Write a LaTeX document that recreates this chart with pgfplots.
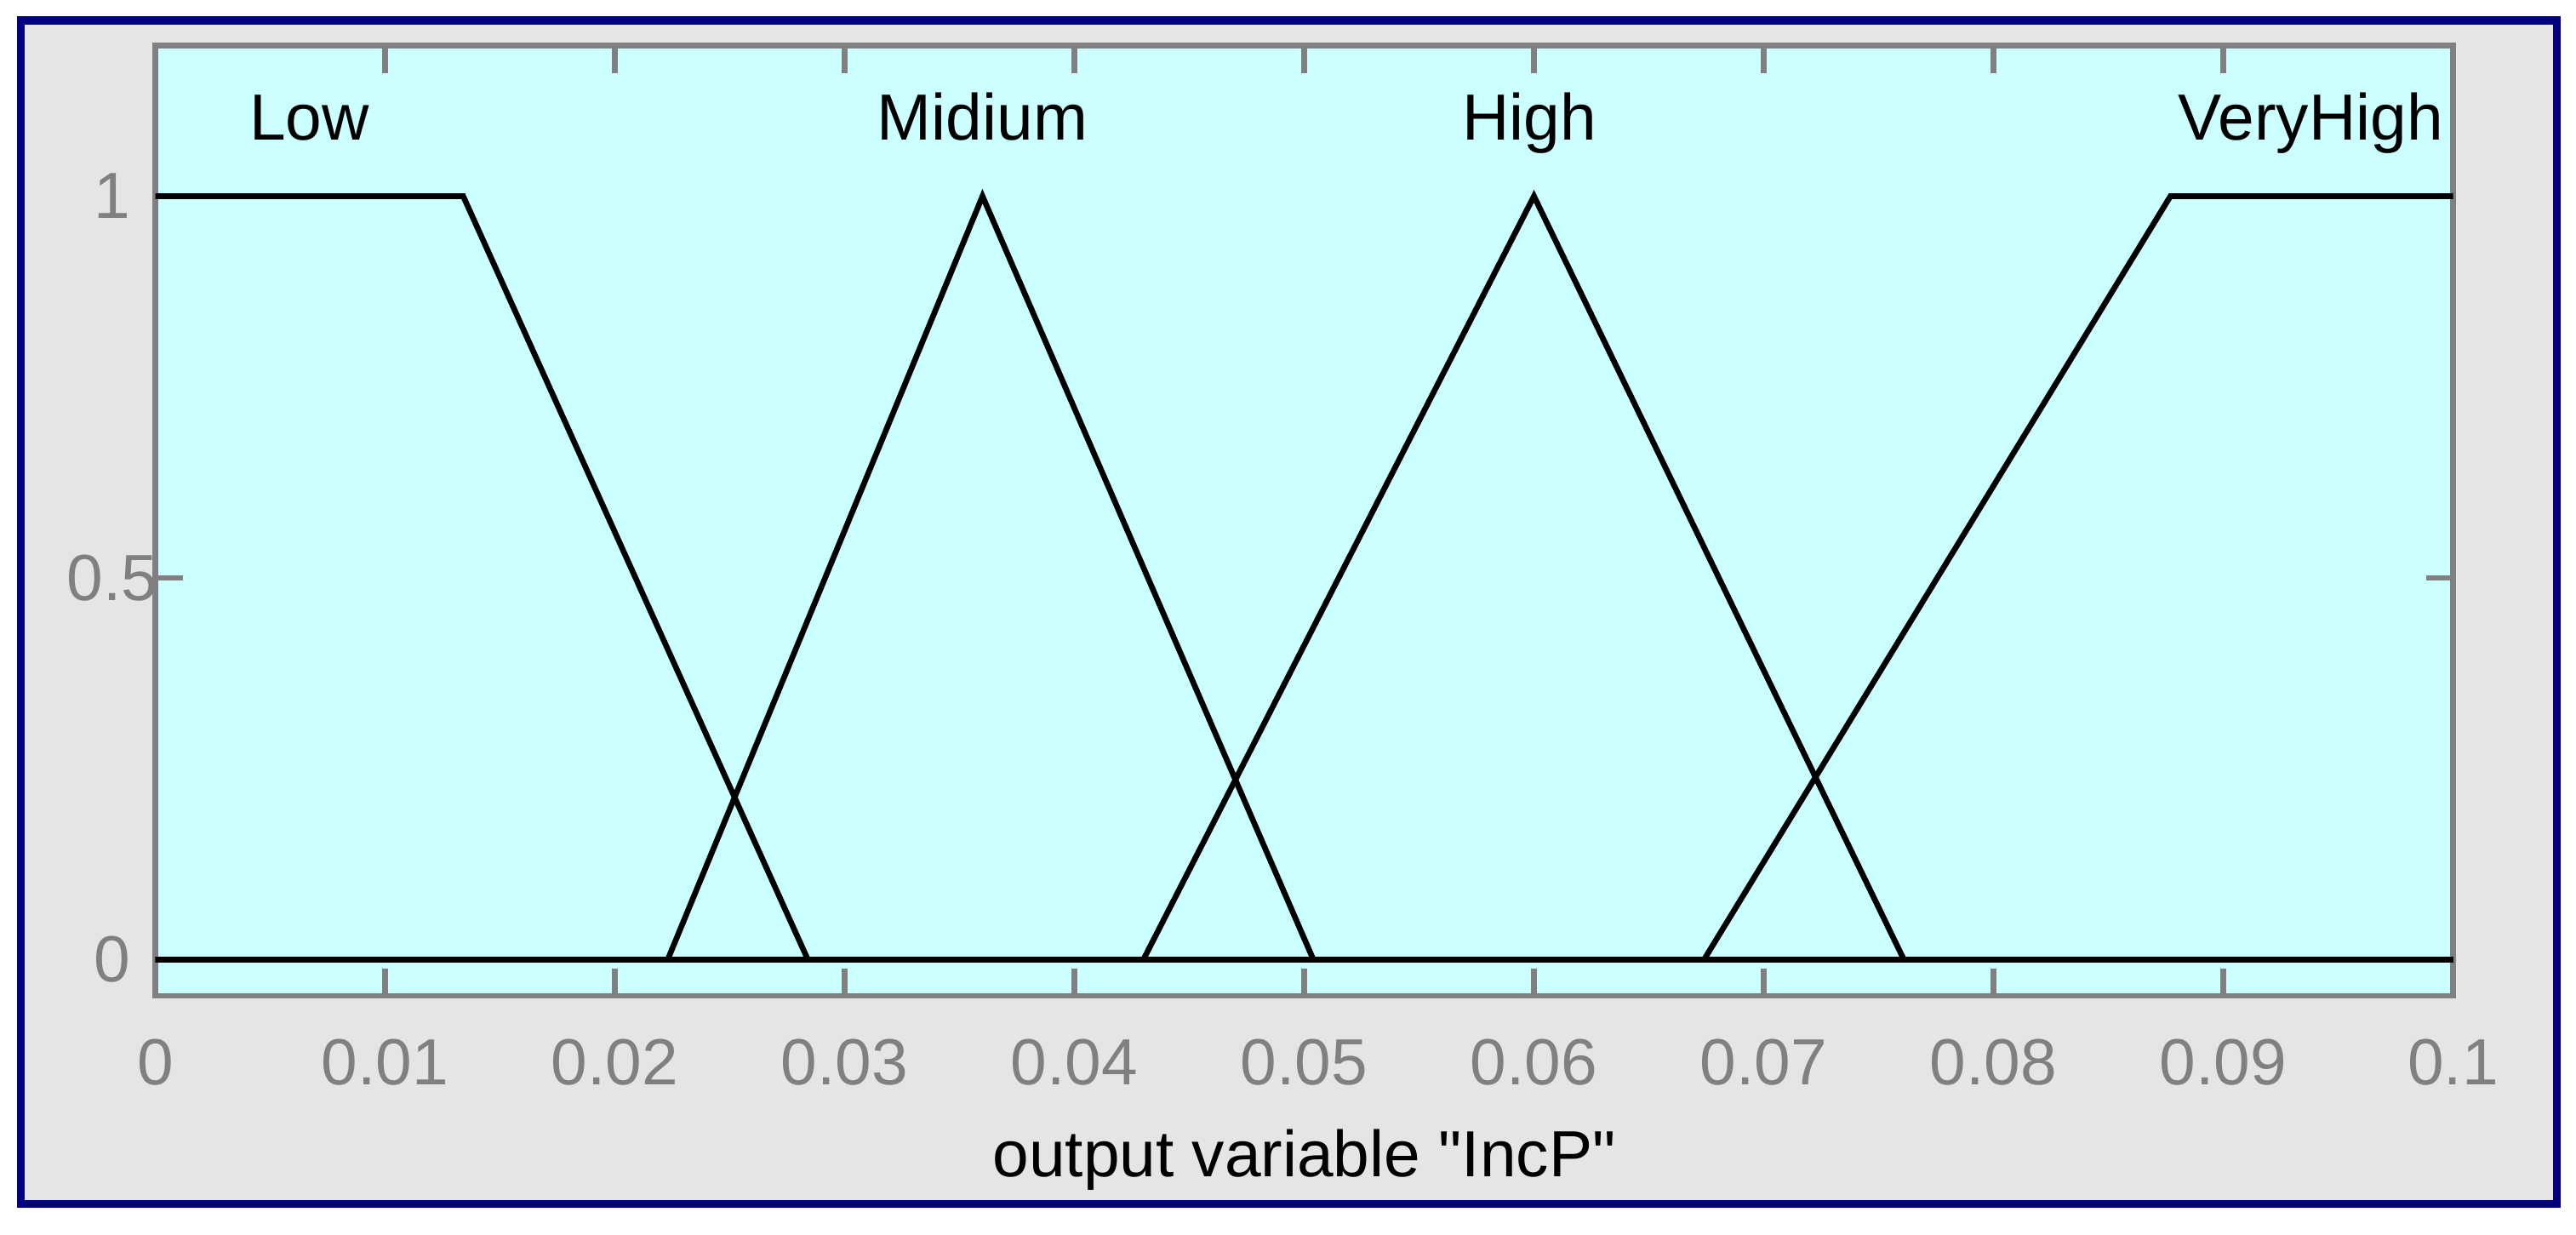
\documentclass[border=0pt]{standalone}
\usepackage{fontspec}
\setmainfont{Liberation Sans}[Ligatures=TeXOff]
\usepackage{pgfplots}
\pgfplotsset{compat=1.18}
\definecolor{navyb}{RGB}{0,0,128}
\definecolor{figbg}{RGB}{229,229,229}
\definecolor{axbg}{RGB}{204,255,255}
\definecolor{axgray}{RGB}{128,128,128}
\newcommand{\lblfont}{\fontsize{11.5}{13}\selectfont}
\begin{document}
\begin{tikzpicture}
\fill[white] (-27.375pt,-42pt) rectangle (426.675pt,175.5pt);
\useasboundingbox (-27.375pt,-42pt) rectangle (426.675pt,175.5pt);
\filldraw[fill=figbg, draw=navyb, line width=1.425pt] (-23.7pt,-36.675pt) rectangle (423.3pt,171.9pt);
\begin{axis}[
  at={(0pt,0pt)}, anchor=south west,
  scale only axis, width=405pt, height=167.475pt,
  xmin=0, xmax=0.1, ymin=-0.0474, ymax=1.1973,
  axis background/.style={fill=axbg},
  axis line style={draw=axgray, line width=1pt},
  tick align=inside, tick pos=both, major tick length=4.8pt,
  tick style={draw=axgray, line width=1pt},
  xtick={0,0.01,0.02,0.03,0.04,0.05,0.06,0.07,0.08,0.09,0.1},
  xticklabels={0,0.01,0.02,0.03,0.04,0.05,0.06,0.07,0.08,0.09,0.1},
  ytick={0,0.5,1}, yticklabels={0,0.5,1},
  ticklabel style={font=\lblfont, text=axgray, inner sep=0pt},
  xticklabel style={anchor=base, yshift=-15.6pt},
  yticklabel style={anchor=center, xshift=-7.6pt},
  xlabel={output variable "IncP"},
  xlabel style={at={(axis description cs:0.5,0)}, anchor=base, yshift=-31.8pt, font=\lblfont, text=black, inner sep=0pt},
  clip=false,
]
\addplot[black, line width=1pt] coordinates {(0,1) (0.0134,1) (0.0284,0) (0.1,0)};
\addplot[black, line width=1pt] coordinates {(0,0) (0.0223,0) (0.036,1) (0.0504,0) (0.1,0)};
\addplot[black, line width=1pt] coordinates {(0,0) (0.043,0) (0.06,1) (0.0761,0) (0.1,0)};
\addplot[black, line width=1pt] coordinates {(0,0) (0.0674,0) (0.0877,1) (0.1,1)};
\node[anchor=base, font=\lblfont, text=black, inner sep=0pt] at (axis cs:0.0067,1.0741) {Low};
\node[anchor=base, font=\lblfont, text=black, inner sep=0pt] at (axis cs:0.036,1.0741) {Midium};
\node[anchor=base, font=\lblfont, text=black, inner sep=0pt] at (axis cs:0.0598,1.0741) {High};
\node[anchor=base, font=\lblfont, text=black, inner sep=0pt] at (axis cs:0.0938,1.0741) {VeryHigh};
\end{axis}
\end{tikzpicture}
\end{document}
